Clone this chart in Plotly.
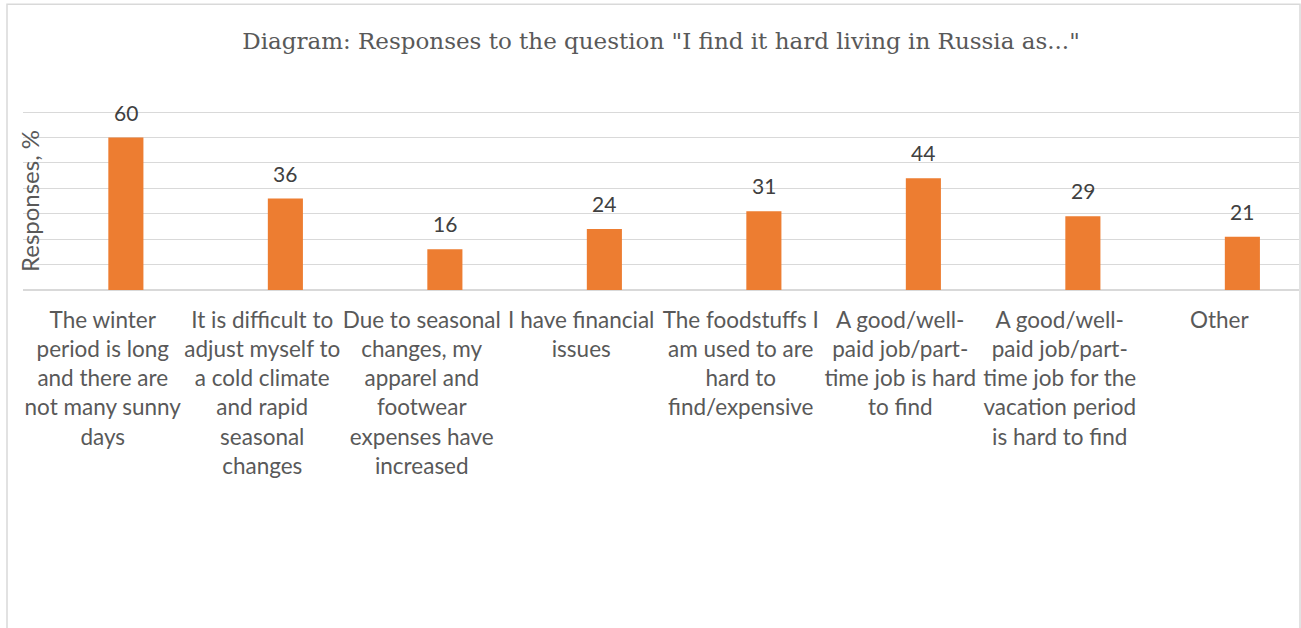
import plotly.graph_objects as go

categories = [
    "The winter<br>period is long<br>and there are<br>not many sunny<br>days",
    "It is difficult to<br>adjust myself to<br>a cold climate<br>and rapid<br>seasonal<br>changes",
    "Due to seasonal<br>changes, my<br>apparel and<br>footwear<br>expenses have<br>increased",
    "I have financial<br>issues",
    "The foodstuffs I<br>am used to are<br>hard to<br>find/expensive",
    "A good/well-<br>paid job/part-<br>time job is hard<br>to find",
    "A good/well-<br>paid job/part-<br>time job for the<br>vacation period<br>is hard to find",
    "Other",
]
values = [60, 36, 16, 24, 31, 44, 29, 21]
title_text = 'Diagram: Responses to the question "I find it hard living in Russia as..."'
y_title = "Responses, %"

W, H = 1301, 628
y_max = 72
px_per_unit = 177.5 / 70
ML, MR, MB = 23, 2, 338
plot_h = y_max * px_per_unit
MT = H - MB - plot_h
plot_w = W - ML - MR
cat_w = plot_w / len(categories)

bar_width = 0.22
bar_offset = 0.035

fig = go.Figure()
fig.add_trace(go.Bar(
    x=categories, y=values,
    width=bar_width, offset=bar_offset,
    marker=dict(color="#ED7D31", line=dict(width=0)),
    hoverinfo="x+y",
))

label_shift = (bar_offset + bar_width / 2) * cat_w
for c, v in zip(categories, values):
    fig.add_annotation(
        x=c, y=v, text=str(v), showarrow=False,
        xanchor="center", yanchor="bottom", xshift=label_shift, yshift=11,
        font=dict(family="Lato", size=21, color="#404040"),
    )

fig.add_annotation(
    xref="paper", yref="paper", x=0, y=(70 / 2) / y_max, xanchor="center", yanchor="middle",
    xshift=6, text=y_title, textangle=-90, showarrow=False,
    font=dict(family="Lato", size=24, color="#595959"),
)

# chart frame
fig.add_shape(
    type="rect", xref="paper", yref="paper",
    x0=(7 - ML) / plot_w, x1=(1300 - ML) / plot_w,
    y0=-(H + 20 - MT - plot_h) / plot_h, y1=1 + (MT - 5) / plot_h,
    line=dict(color="#d9d9d9", width=1.5), fillcolor="rgba(0,0,0,0)", layer="below",
)

fig.update_layout(
    width=W, height=H,
    margin=dict(l=ML, r=MR, t=MT, b=MB, autoexpand=False),
    paper_bgcolor="white", plot_bgcolor="white",
    showlegend=False,
    title=dict(
        text=title_text, x=0.5, xanchor="center", xref="paper",
        y=1 - 41 / H, yanchor="middle", yref="container",
        font=dict(family="Georgia, DejaVu Serif", size=23, color="#595959"),
    ),
    xaxis=dict(
        showgrid=False, showline=False, ticks="", zeroline=False,
        tickfont=dict(family="Lato", size=22.5, color="#595959"),
        tickangle=0, ticklabelstandoff=14,
    ),
    yaxis=dict(
        range=[0, y_max], tickmode="array", tickvals=[0, 10, 20, 30, 40, 50, 60, 70],
        showticklabels=False, ticks="",
        showgrid=True, gridcolor="#d9d9d9", gridwidth=1.3,
        zeroline=True, zerolinecolor="#d9d9d9", zerolinewidth=1.5,
        showline=False,
    ),
)

fig.write_html("out.html")
